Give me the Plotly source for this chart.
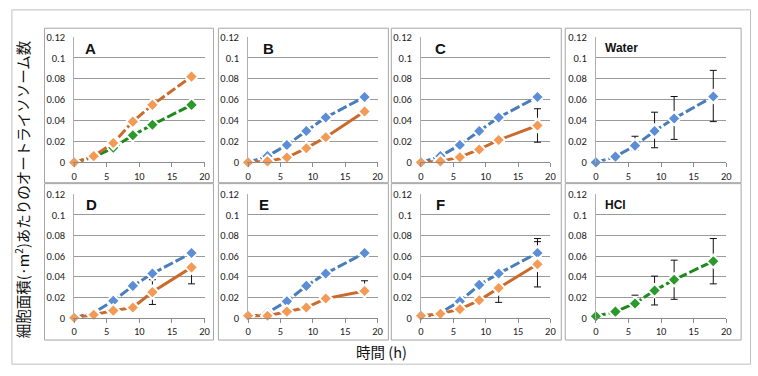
import plotly.graph_objects as go

W, H = 758, 376

# ---------------- data ----------------
hours = [0, 3, 6, 9, 12, 18]
x_ticks = [0, 5, 10, 15, 20]
y_ticks = [0, 0.02, 0.04, 0.06, 0.08, 0.1, 0.12]

panel_labels = ["A", "B", "C", "Water", "D", "E", "F", "HCl"]

water = [0, 0.0055, 0.016, 0.030, 0.042, 0.063]
water_err_plus = [0, 0.001, 0.009, 0.018, 0.021, 0.025]
water_err_minus = [0, 0.001, 0.004, 0.016, 0.020, 0.024]

hcl = [0.0015, 0.006, 0.014, 0.0265, 0.037, 0.055]
hcl_err_plus = [0, 0.001, 0.008, 0.014, 0.019, 0.022]
hcl_err_minus = [0, 0.001, 0.004, 0.014, 0.019, 0.022]

a_orange = [0, 0.006, 0.0185, 0.039, 0.055, 0.082]
a_green = [0, 0.005, 0.014, 0.026, 0.036, 0.055]

b_blue = [0, 0.006, 0.0167, 0.030, 0.043, 0.0626]
b_orange = [0, 0.001, 0.0047, 0.0136, 0.024, 0.0487]

c_blue = [0, 0.006, 0.0167, 0.030, 0.043, 0.0626]
c_orange = [0, 0.001, 0.005, 0.0124, 0.0214, 0.0353]
c_orange_err = [0, 0, 0, 0, 0, 0.016]

d_blue = [0, 0.005, 0.0165, 0.031, 0.043, 0.063]
d_orange = [0, 0.003, 0.007, 0.010, 0.025, 0.049]
d_orange_err = [0, 0, 0, 0, 0.012, 0.016]

e_blue = [0, 0.005, 0.016, 0.031, 0.043, 0.063]
e_orange = [0.002, 0.002, 0.006, 0.010, 0.0187, 0.026]
e_orange_err_plus = [0, 0, 0, 0, 0, 0.010]
e_orange_err_minus = [0, 0, 0, 0, 0, 0.003]

f_blue = [0, 0.005, 0.016, 0.032, 0.043, 0.063]
f_blue_err = [0, 0, 0, 0, 0, 0.014]
f_orange = [0.002, 0.004, 0.0084, 0.017, 0.029, 0.052]
f_orange_err = [0, 0, 0, 0, 0.014, 0.022]

y_title = "細胞面積(·m<sup>2</sup>)あたりのオートライソソーム数"
x_title = "時間 (h)"

# ---------------- styles ----------------
BLUE_LINE, BLUE_MK = "#4A7EBB", "#5B8ED6"
ORANGE_LINE, ORANGE_MK = "#CC6A2C", "#F59A55"
GREEN_LINE, GREEN_MK = "#1E8A1E", "#2A9A2A"
DASH = "10px,3px"
FONT = "Carlito, Liberation Sans, Arial, sans-serif"

cols = [(72, 204), (248, 379), (423, 554), (600, 732)]
rows = [(32, 162), (195, 323)]
box_cols = [(42, 213), (218, 390), (393, 565), (569, 747)]
box_rows = [(23, 183), (184, 346)]
label_pos = [(82, 44), (262, 44), (436, 44), (608, 44),
             (83, 206), (258, 206), (437, 206), (608, 206)]


def px_x(v):
    return v / W


def px_y(v):
    return 1 - v / H


fig = go.Figure()
layout = {}

series = [
    (1, a_green, GREEN_LINE, GREEN_MK, DASH, None, None),
    (1, a_orange, ORANGE_LINE, ORANGE_MK, DASH, None, None),
    (2, b_blue, BLUE_LINE, BLUE_MK, DASH, None, None),
    (2, b_orange, ORANGE_LINE, ORANGE_MK, "solid", None, None),
    (3, c_blue, BLUE_LINE, BLUE_MK, DASH, None, None),
    (3, c_orange, ORANGE_LINE, ORANGE_MK, "solid", c_orange_err, c_orange_err),
    (4, water, BLUE_LINE, BLUE_MK, DASH, water_err_plus, water_err_minus),
    (5, d_blue, BLUE_LINE, BLUE_MK, DASH, None, None),
    (5, d_orange, ORANGE_LINE, ORANGE_MK, "solid", d_orange_err, d_orange_err),
    (6, e_blue, BLUE_LINE, BLUE_MK, DASH, None, None),
    (6, e_orange, ORANGE_LINE, ORANGE_MK, "solid", e_orange_err_plus, e_orange_err_minus),
    (7, f_blue, BLUE_LINE, BLUE_MK, DASH, f_blue_err, f_blue_err),
    (7, f_orange, ORANGE_LINE, ORANGE_MK, "solid", f_orange_err, f_orange_err),
    (8, hcl, GREEN_LINE, GREEN_MK, DASH, hcl_err_plus, hcl_err_minus),
]


def axn(idx):
    return "" if idx == 1 else str(idx)


for idx, y, lc, mc, dash, ep, em in series:
    if ep is None:
        continue
    ax = axn(idx)
    fig.add_trace(go.Scatter(
        x=hours, y=y, mode="markers", xaxis="x" + ax, yaxis="y" + ax,
        marker=dict(size=1, color="rgba(0,0,0,0)"),
        error_y=dict(type="data", array=ep, arrayminus=em, symmetric=False,
                     color="#111111", thickness=1, width=3.5),
        cliponaxis=False, showlegend=False, hoverinfo="skip"))

for idx, y, lc, mc, dash, ep, em in series:
    ax = axn(idx)
    fig.add_trace(go.Scatter(
        x=hours, y=y, mode="lines+markers", xaxis="x" + ax, yaxis="y" + ax,
        line=dict(color=lc, width=3, dash=dash),
        marker=dict(symbol="diamond", size=10, color=mc,
                    line=dict(color="white", width=2)),
        cliponaxis=False, showlegend=False))

shapes = []
annotations = []

shapes.append(dict(type="rect", xref="paper", yref="paper",
                   x0=px_x(9), x1=px_x(756.5), y0=px_y(371), y1=px_y(4),
                   line=dict(color="#BFBFBF", width=1)))

for i in range(8):
    r, c = divmod(i, 4)
    idx = i + 1
    ax = axn(idx)
    x0, x1 = cols[c]
    y0, y1 = rows[r]
    layout["xaxis" + ax] = dict(
        domain=[px_x(x0), px_x(x1)], range=[0, 20], anchor="y" + ax,
        tickvals=x_ticks, ticks="outside", ticklen=4, tickcolor="#8C8C8C",
        showline=True, linecolor="#8C8C8C", linewidth=1,
        showgrid=False, zeroline=False,
        tickfont=dict(family=FONT, size=10.5, color="#222222"), fixedrange=True)
    layout["yaxis" + ax] = dict(
        domain=[px_y(y1), px_y(y0)], range=[0, 0.12], anchor="x" + ax,
        tickvals=y_ticks, ticktext=[("%g" % v) for v in y_ticks],
        ticks="", showline=True, linecolor="#B0B0B0", linewidth=1,
        showgrid=True, gridcolor="#9A9A9A", gridwidth=1, zeroline=False,
        ticklabelstandoff=6,
        tickfont=dict(family=FONT, size=10.5, color="#222222"), fixedrange=True)
    bx0, bx1 = box_cols[c]
    by0, by1 = box_rows[r]
    shapes.append(dict(type="rect", xref="paper", yref="paper",
                       x0=px_x(bx0), x1=px_x(bx1), y0=px_y(by1), y1=px_y(by0),
                       line=dict(color="#A6A6A6", width=1)))
    lab = panel_labels[i]
    big = len(lab) == 1
    lx, ly = label_pos[i]
    annotations.append(dict(
        text="<b>%s</b>" % lab, xref="paper", yref="paper",
        x=px_x(lx), y=px_y(ly), xanchor="left", yanchor="middle",
        showarrow=False, borderpad=0,
        font=dict(family="Liberation Sans, Arial, sans-serif",
                  size=15 if big else 12, color="#111111")))

annotations.append(dict(
    text=y_title, xref="paper", yref="paper", x=px_x(20), y=px_y(190),
    textangle=-90, showarrow=False, xanchor="center", yanchor="middle",
    font=dict(family="Noto Sans CJK JP", size=14.5, color="#111111")))
annotations.append(dict(
    text=x_title, xref="paper", yref="paper", x=px_x(383), y=px_y(358),
    showarrow=False, xanchor="center", yanchor="middle",
    font=dict(family="Noto Sans CJK JP", size=14.5, color="#111111")))

fig.update_layout(
    width=W, height=H, margin=dict(l=0, r=0, t=0, b=0),
    paper_bgcolor="white", plot_bgcolor="white",
    shapes=shapes, annotations=annotations, showlegend=False, **layout)

fig.write_html("out.html",
               config={"displayModeBar": False, "staticPlot": True},
               post_script="document.body.style.margin='0px';document.body.style.overflow='hidden';")
